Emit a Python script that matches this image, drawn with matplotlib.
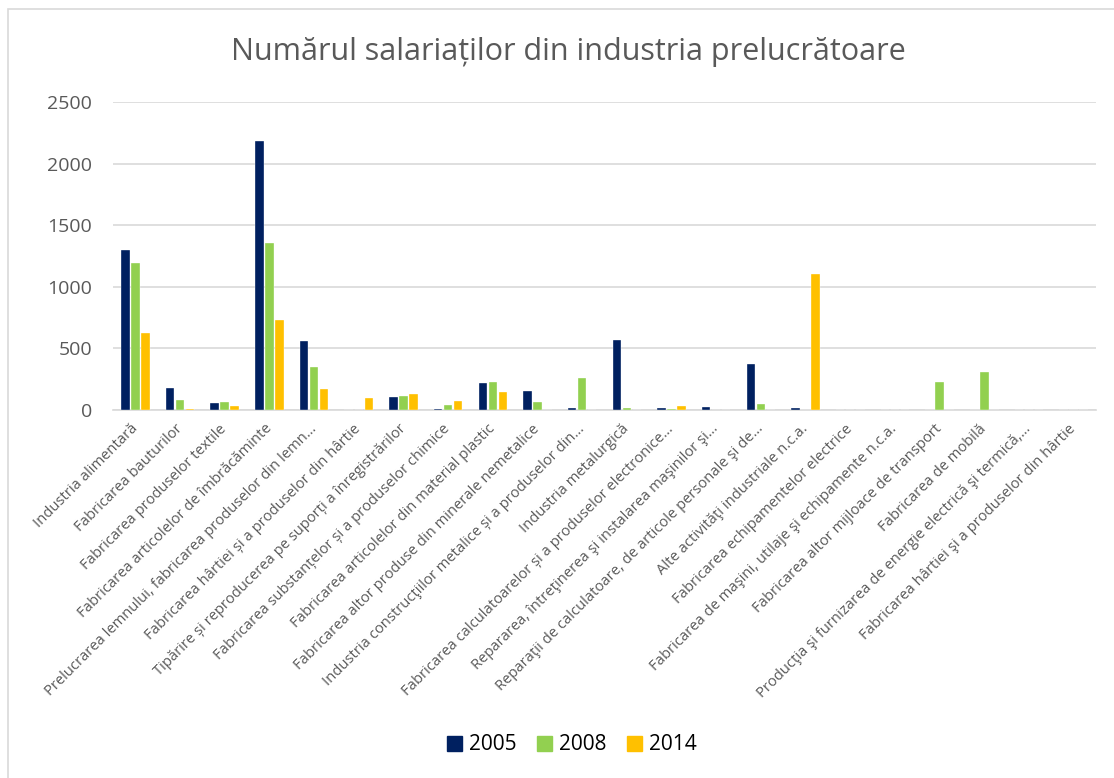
import matplotlib.pyplot as plt
import matplotlib.patches as mpatches
import numpy as np

plt.rcParams['font.family'] = ['Open Sans', 'DejaVu Sans']

categories = [
    'Industria alimentară',
    'Fabricarea bauturilor',
    'Fabricarea produselor textile',
    'Fabricarea articolelor de îmbrăcăminte',
    'Prelucrarea lemnului, fabricarea produselor din lemn…',
    'Fabricarea hârtiei și a produselor din hârtie',
    'Tipărire și reproducerea pe suporți a înregistrărilor',
    'Fabricarea substanțelor și a produselor chimice',
    'Fabricarea articolelor din material plastic',
    'Fabricarea altor produse din minerale nemetalice',
    'Industria construcţiilor metalice și a produselor din…',
    'Industria metalurgică',
    'Fabricarea calculatoarelor și a produselor electronice…',
    'Repararea, întreţinerea şi instalarea maşinilor şi…',
    'Reparaţii de calculatoare, de articole personale şi de…',
    'Alte activităţi industriale n.c.a.',
    'Fabricarea echipamentelor electrice',
    'Fabricarea de maşini, utilaje şi echipamente n.c.a.',
    'Fabricarea altor mijloace de transport',
    'Fabricarea de mobilă',
    'Producţia şi furnizarea de energie electrică şi termică,…',
    'Fabricarea hârtiei şi a produselor din hârtie',
]

years = ['2005', '2008', '2014']
v2005 = [1295, 175, 59, 2187, 562, 0, 103, 11, 219, 154, 16, 570,
         16, 24, 373, 19, 0, 0, 0, 0, 0, 0]
v2008 = [1195, 81, 65, 1358, 351, 3, 116, 43, 227, 65, 256, 19,
         11, 4, 51, 0, 3, 0, 227, 308, 0, 0]
v2014 = [629, 11, 35, 734, 173, 97, 132, 70, 148, 0, 0, 0,
         35, 0, 0, 1104, 0, 0, 0, 0, 0, 0]
colors = ['#002060', '#92D050', '#FFC000']

fig = plt.figure(figsize=(11.14, 7.78), dpi=100)
ax = fig.add_axes([113 / 1114, 1 - 410 / 778, (1096 - 113) / 1114, (410 - 102) / 778])

x = np.arange(len(categories))
w = 0.19
step = 0.224
for i, (vals, c, lab) in enumerate(zip([v2005, v2008, v2014], colors, years)):
    ax.bar(x + (i - 1) * step, vals, width=w, color=c, label=lab,
           edgecolor='white', linewidth=0.25, zorder=3)

ax.set_xlim(-0.5, len(categories) - 0.5)
ax.set_ylim(0, 2500)
ax.set_yticks(range(0, 2501, 500))
ax.grid(axis='y', color='#d9d9d9', linewidth=1.2, zorder=0)
for s in ['top', 'right', 'left']:
    ax.spines[s].set_visible(False)
ax.spines['bottom'].set_color('#d9d9d9')
ax.spines['bottom'].set_linewidth(1.2)
ax.tick_params(axis='both', length=0, colors='#595959')
ax.tick_params(axis='y', labelsize=14, pad=15)
ax.set_xticks(x)
ax.set_xticklabels(categories, rotation=45, ha='right', va='center',
                   rotation_mode='anchor', fontsize=10.6, color='#595959')
ax.tick_params(axis='x', pad=12)

fig.text(568 / 1114, 1 - 52 / 778, 'Numărul salariaților din industria prelucrătoare',
         ha='center', va='center', fontsize=22, color='#595959')

handles = [mpatches.Patch(color=c, label=y) for c, y in zip(colors, years)]
fig.legend(handles=handles, loc='center', bbox_to_anchor=(572 / 1114, 1 - 745 / 778),
           ncol=3, frameon=False, fontsize=15, handlelength=0.7, handleheight=0.7,
           handletextpad=0.35, columnspacing=1.0)

# chart area border (runs off the right and bottom edges)
fig.patches.append(mpatches.Rectangle((8 / 1114, -0.1), 1.2, 1.1 - 9 / 778,
                                      transform=fig.transFigure, fill=False,
                                      edgecolor='#d9d9d9', linewidth=1.2))

fig.savefig('out.png', dpi=100)
